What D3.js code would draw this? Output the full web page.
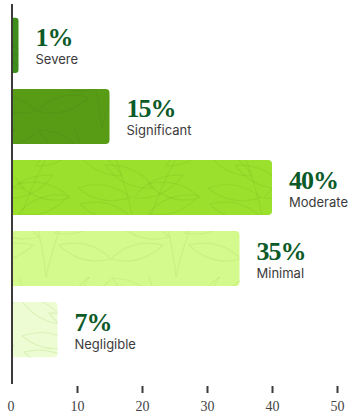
<!DOCTYPE html>
<html>
<head>
<meta charset="utf-8">
<script src="https://cdn.jsdelivr.net/npm/d3@7"></script>
<style>
  html, body { margin: 0; padding: 0; background: #ffffff; }
  svg { display: block; }
</style>
</head>
<body>
<div id="chart"></div>
<script>
// Severity breakdown, share of responses in percent
const categories = ["Severe", "Significant", "Moderate", "Minimal", "Negligible"];
const values = [1, 15, 40, 35, 7];
const barColors = ["#3f8d1c", "#589c16", "#9be02c", "#d4f98c", "#eefcd4"];
const leafStrokes = ["rgba(30,80,10,0.10)", "rgba(40,90,10,0.10)", "rgba(80,150,20,0.12)", "rgba(140,200,60,0.16)", "rgba(160,215,100,0.26)"];
const xTicks = [10, 20, 30, 40, 50];

const width = 349, height = 416;

const svg = d3.select("#chart").append("svg")
  .attr("width", width)
  .attr("height", height);

const x = d3.scaleLinear().domain([0, 50]).range([12, 337]);
const y = d3.scaleBand().domain(categories).range([5, 370])
  .paddingInner(0.225).paddingOuter(0.18);

// Leaf motif used as a faint texture inside each bar
const defs = svg.append("defs");
const leaf = "M0,0 Q26,-15 54,0 Q26,15 0,0Z";
categories.forEach((c, i) => {
  const p = defs.append("pattern")
    .attr("id", "leaf" + i)
    .attr("patternUnits", "userSpaceOnUse")
    .attr("width", 130).attr("height", 110)
    .attr("x", i * 37).attr("y", i * 19);
  const g = p.append("g")
    .attr("fill", "none")
    .attr("stroke", leafStrokes[i])
    .attr("stroke-width", 1.2);
  g.append("path").attr("d", "M65,110 C62,80 55,45 38,0");
  g.append("path").attr("d", "M65,110 C72,78 84,42 108,0");
  [[58,70,-165],[60,50,-25],[48,28,-150],[74,66,-20],[80,40,-155],[92,18,-30],
   [0,92,-15],[130,92,-165],[4,40,10],[126,50,195]].forEach(([tx, ty, r]) => {
    g.append("path").attr("d", leaf)
      .attr("transform", `translate(${tx},${ty}) rotate(${r})`);
  });
});

// Bars with rounded right end, flush against the axis on the left
function barPath(x0, x1, y0, h, r) {
  const w = x1 - x0;
  r = Math.min(r, w / 2, h / 2);
  return `M${x0},${y0} H${x1 - r} Q${x1},${y0} ${x1},${y0 + r} V${y0 + h - r} Q${x1},${y0 + h} ${x1 - r},${y0 + h} H${x0} Z`;
}

const bars = svg.append("g");
categories.forEach((c, i) => {
  const d = barPath(x(0), x(values[i]), y(c), y.bandwidth(), 4);
  bars.append("path").attr("d", d).attr("fill", barColors[i]);
  bars.append("path").attr("d", d).attr("fill", `url(#leaf${i})`);
});

// Value and category labels to the right of each bar
const labels = svg.append("g");
categories.forEach((c, i) => {
  const lx = x(values[i]) + 17;
  const cy = y(c) + y.bandwidth() / 2;
  labels.append("text")
    .attr("x", lx).attr("y", cy + 1)
    .attr("font-family", "'Liberation Serif', 'DejaVu Serif', serif")
    .attr("font-weight", 700)
    .attr("font-size", 26)
    .attr("letter-spacing", -1)
    .attr("fill", "#0c5a27")
    .text(values[i] + "%");
  labels.append("text")
    .attr("x", lx).attr("y", cy + 19)
    .attr("font-family", "Inter, 'Noto Sans', sans-serif")
    .attr("font-size", 13)
    .attr("fill", "#3b3b3b")
    .text(c);
});

// Vertical baseline
svg.append("line")
  .attr("x1", x(0)).attr("x2", x(0))
  .attr("y1", 4).attr("y2", 384)
  .attr("stroke", "#3d3a3a").attr("stroke-width", 2);

// Bottom axis: ticks and numbers
const axis = svg.append("g")
  .attr("transform", "translate(0,386)")
  .call(d3.axisBottom(x).tickValues(xTicks).tickSize(7).tickPadding(8).tickSizeOuter(0));
axis.select(".domain").remove();
axis.selectAll(".tick line").attr("stroke", "#3d3a3a").attr("stroke-width", 2);
axis.selectAll(".tick text")
  .attr("font-family", "'Liberation Serif', 'DejaVu Serif', serif")
  .attr("font-size", 14)
  .attr("fill", "#444");
axis.append("text")
  .attr("x", x(0) - 1).attr("y", 15).attr("dy", "0.71em")
  .attr("text-anchor", "middle")
  .attr("font-family", "'Liberation Serif', 'DejaVu Serif', serif")
  .attr("font-size", 14)
  .attr("fill", "#444")
  .text("0");
</script>
</body>
</html>
